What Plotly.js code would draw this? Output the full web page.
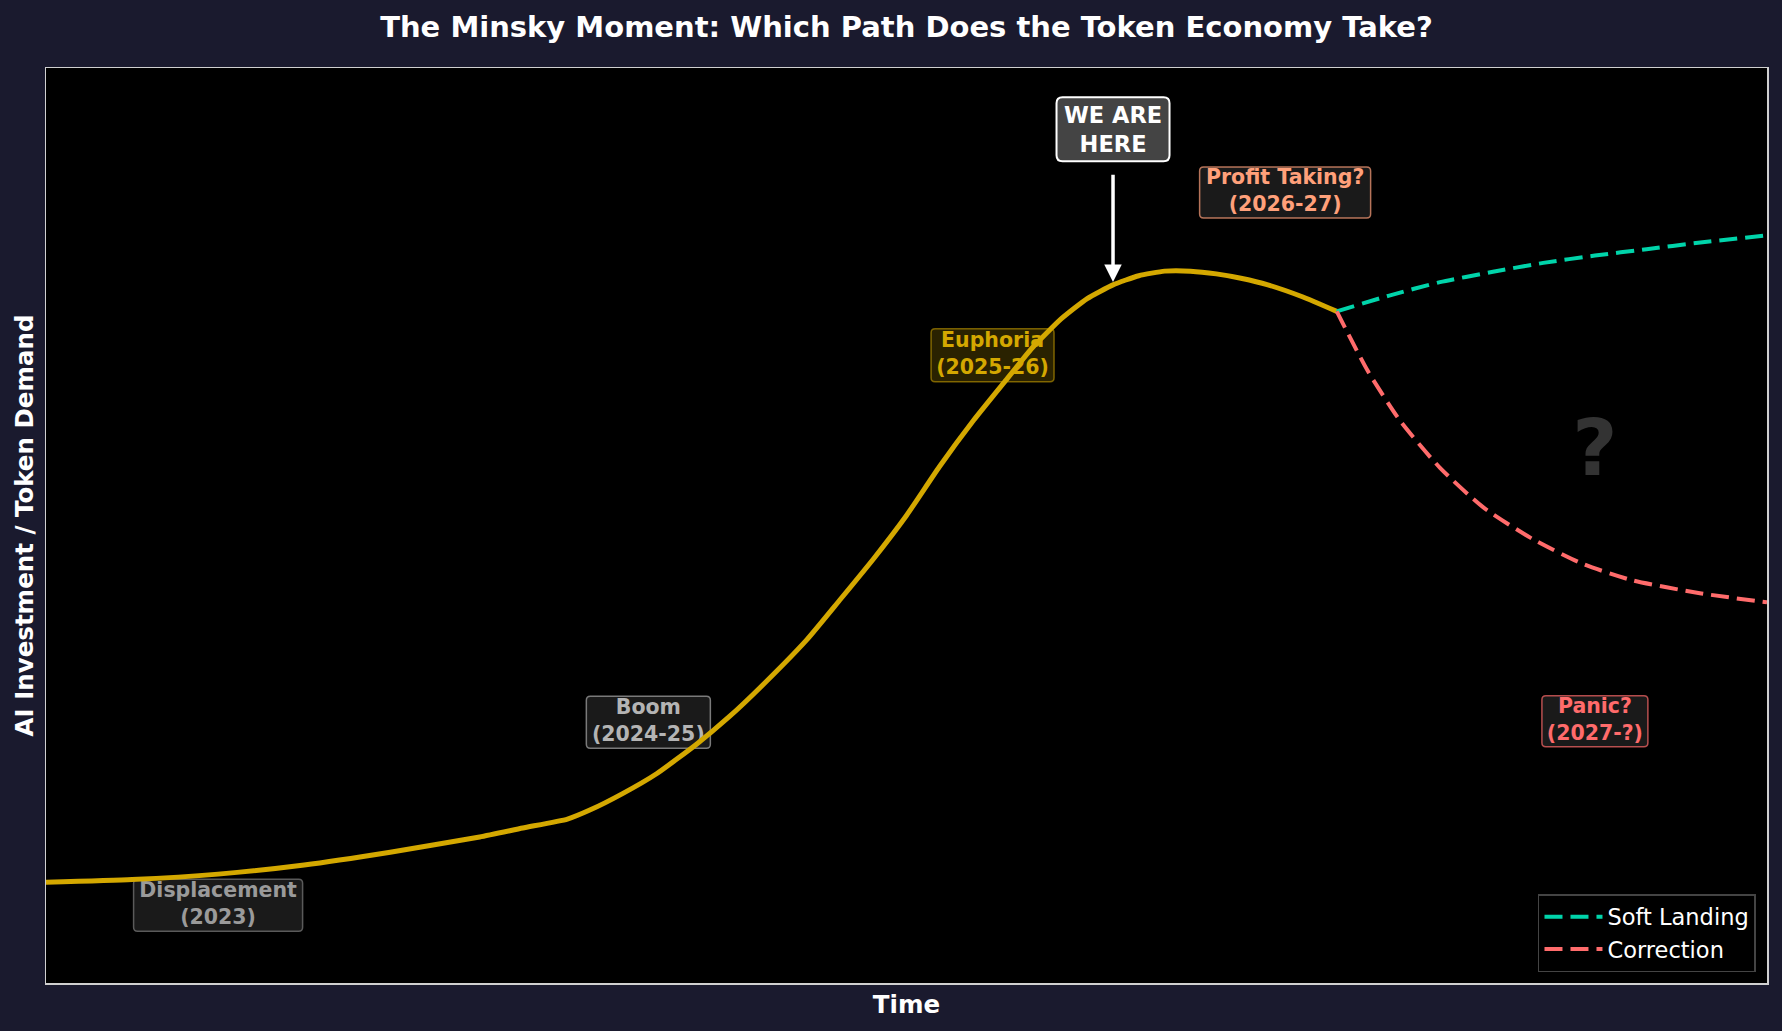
<!DOCTYPE html>
<html>
<head>
<meta charset="utf-8">
<script src="https://cdn.plot.ly/plotly-3.0.1.min.js"></script>
<style>html,body{margin:0;padding:0;background:#1a1a2e;}#chart{width:1782px;height:1031px;}</style>
</head>
<body>
<div id="chart"></div>
<script>
// ---- Data ----
const timeMain   = [0.0, 0.5, 1.0, 1.5, 2.0, 2.52, 2.77, 3.03, 3.16, 3.35, 3.55, 3.78, 3.97, 4.15, 4.42, 4.61, 4.81, 5.00, 5.19, 5.39, 5.57, 5.73, 5.9, 6.05, 6.2, 6.35, 6.5, 6.65, 6.8, 6.95, 7.1, 7.3, 7.5];
const demandMain = [11.0, 11.3, 11.9, 12.9, 14.3, 15.96, 16.94, 17.92, 18.9, 20.7, 22.9, 26.1, 29.1, 32.3, 37.5, 41.8, 46.4, 51.1, 56.4, 61.5, 65.7, 69.4, 72.6, 74.8, 76.3, 77.3, 77.8, 77.8, 77.5, 77.0, 76.3, 75.0, 73.4];

const timeSoft   = [7.5, 7.8, 8.1, 8.4, 8.7, 9.0, 9.3, 9.6, 10.0];
const demandSoft = [73.4, 75.1, 76.6, 77.7, 78.7, 79.5, 80.2, 80.9, 81.7];

const timeCorr   = [7.5, 7.68, 7.87, 8.10, 8.35, 8.64, 8.93, 9.22, 9.61, 10.0];
const demandCorr = [73.4, 66.9, 61.4, 56.3, 52.0, 48.5, 45.8, 44.0, 42.6, 41.6];

const seriesNames = ['Soft Landing', 'Correction'];
const phaseTexts  = ['Displacement<br>(2023)', 'Boom<br>(2024-25)', 'Euphoria<br>(2025-26)', 'Profit Taking?<br>(2026-27)', 'Panic?<br>(2027-?)'];
const markerText  = 'WE ARE<br>HERE';

// ---- Label placement & style (not data) ----
const FONT = 'DejaVu Sans, Liberation Sans, sans-serif';
const labelStyle = [
  {x: 1.0,  y: 8.5,  w: 169, h: 52, text: '#9a9a9a', fill: '#1a1a1a', border: '#5a5a5a'},
  {x: 3.5,  y: 28.5, w: 124, h: 52, text: '#b4b4b4', fill: '#1a1a1a', border: '#7a7a7a'},
  {x: 5.5,  y: 68.6, w: 123, h: 53, text: '#D4A800', fill: 'rgba(212,168,0,0.2)', border: 'rgba(212,168,0,0.55)'},
  {x: 7.2,  y: 86.4, w: 171, h: 51, text: '#FFA07A', fill: '#1a1a1a', border: 'rgba(255,160,122,0.7)'},
  {x: 9.0,  y: 28.6, w: 106, h: 51, text: '#FF6B6B', fill: '#1a1a1a', border: 'rgba(255,107,107,0.7)'}
];
const here = {x: 6.2, boxY: 93.3, arrowFromY: 88.5, arrowToY: 76.6, w: 113, h: 64};

function roundRect(w, h, r) {
  const a = w / 2, b = h / 2;
  return `M ${-a + r},${-b} L ${a - r},${-b} Q ${a},${-b} ${a},${-b + r} L ${a},${b - r} Q ${a},${b} ${a - r},${b} ` +
         `L ${-a + r},${b} Q ${-a},${b} ${-a},${b - r} L ${-a},${-b + r} Q ${-a},${-b} ${-a + r},${-b} Z`;
}

const traces = [];
// phase label texts (drawn beneath the curve, like the reference)
phaseTexts.forEach((t, i) => {
  const s = labelStyle[i];
  traces.push({
    type: 'scatter', mode: 'text', x: [s.x], y: [s.y], text: ['<b>' + t + '</b>'],
    textposition: 'middle center', textfont: {family: FONT, size: 20.5, color: s.text},
    hoverinfo: 'skip', showlegend: false, cliponaxis: false
  });
});
// big question mark
traces.push({
  type: 'scatter', mode: 'text', x: [9.0], y: [57.6], text: ['<b>?</b>'],
  textposition: 'middle center', textfont: {family: FONT, size: 78, color: '#333333'},
  hoverinfo: 'skip', showlegend: false
});
// main path
traces.push({
  type: 'scatter', mode: 'lines', x: timeMain, y: demandMain, showlegend: false,
  line: {color: '#D4A800', width: 5, shape: 'spline', smoothing: 0.5}, hoverinfo: 'skip'
});
traces.push({
  type: 'scatter', mode: 'lines', name: seriesNames[0], x: timeSoft, y: demandSoft,
  line: {color: '#00D4AA', width: 4, dash: '18px,8px', shape: 'spline', smoothing: 0.6}
});
traces.push({
  type: 'scatter', mode: 'lines', name: seriesNames[1], x: timeCorr, y: demandCorr,
  line: {color: '#FF6B6B', width: 4, dash: '18px,8px', shape: 'spline', smoothing: 0.6}
});

const shapes = labelStyle.map(s => ({
  type: 'path', xref: 'x', yref: 'y', xsizemode: 'pixel', ysizemode: 'pixel',
  xanchor: s.x, yanchor: s.y, path: roundRect(s.w, s.h, 4),
  fillcolor: s.fill, line: {color: s.border, width: 1.5}, layer: 'below'
}));
shapes.push({
  type: 'path', xref: 'x', yref: 'y', xsizemode: 'pixel', ysizemode: 'pixel',
  xanchor: here.x, yanchor: here.boxY, path: roundRect(here.w, here.h, 6),
  fillcolor: '#444444', line: {color: '#ffffff', width: 2}, layer: 'above'
});

const layout = {
  width: 1782, height: 1031,
  paper_bgcolor: '#1a1a2e', plot_bgcolor: '#000000',
  margin: {l: 46, r: 15, t: 68, b: 48, pad: 0},
  font: {family: FONT, color: '#ffffff'},
  title: {
    text: '<b>The Minsky Moment: Which Path Does the Token Economy Take?</b>',
    font: {family: FONT, size: 29, color: '#ffffff'},
    x: 0.5, xref: 'paper', y: 1 - 27 / 1031, yref: 'container', yanchor: 'middle'
  },
  xaxis: {
    range: [0, 10], showgrid: false, zeroline: false, showticklabels: false, ticks: '',
    showline: true, mirror: true, linecolor: '#d0d0d0', linewidth: 1.5, fixedrange: true,
    title: {text: '<b>Time</b>', font: {family: FONT, size: 24.5, color: '#ffffff'}, standoff: 12}
  },
  yaxis: {
    range: [0, 100], showgrid: false, zeroline: false, showticklabels: false, ticks: '',
    showline: true, mirror: true, linecolor: '#d0d0d0', linewidth: 1.5, fixedrange: true,
    title: {text: '<b>AI Investment / Token Demand</b>', font: {family: FONT, size: 24.5, color: '#ffffff'}, standoff: 4}
  },
  legend: {
    x: 0.9936, y: 0.012, xanchor: 'right', yanchor: 'bottom',
    bgcolor: '#000000', bordercolor: '#444444', borderwidth: 1.5,
    itemwidth: 58,
    font: {family: FONT, size: 22.5, color: '#ffffff'}
  },
  shapes: shapes,
  annotations: [
    {
      x: here.x, y: here.boxY, xref: 'x', yref: 'y', showarrow: false,
      text: '<b>' + markerText + '</b>', font: {family: FONT, size: 22.5, color: '#ffffff'}
    },
    {
      x: here.x, y: here.arrowToY, ax: here.x, ay: here.arrowFromY, axref: 'x', ayref: 'y', xref: 'x', yref: 'y',
      text: '', showarrow: true, arrowcolor: '#ffffff', arrowwidth: 3.5, arrowhead: 2, arrowsize: 1
    }
  ],
  showlegend: true
};

Plotly.newPlot('chart', traces, layout, {displayModeBar: false, staticPlot: true});
</script>
</body>
</html>
